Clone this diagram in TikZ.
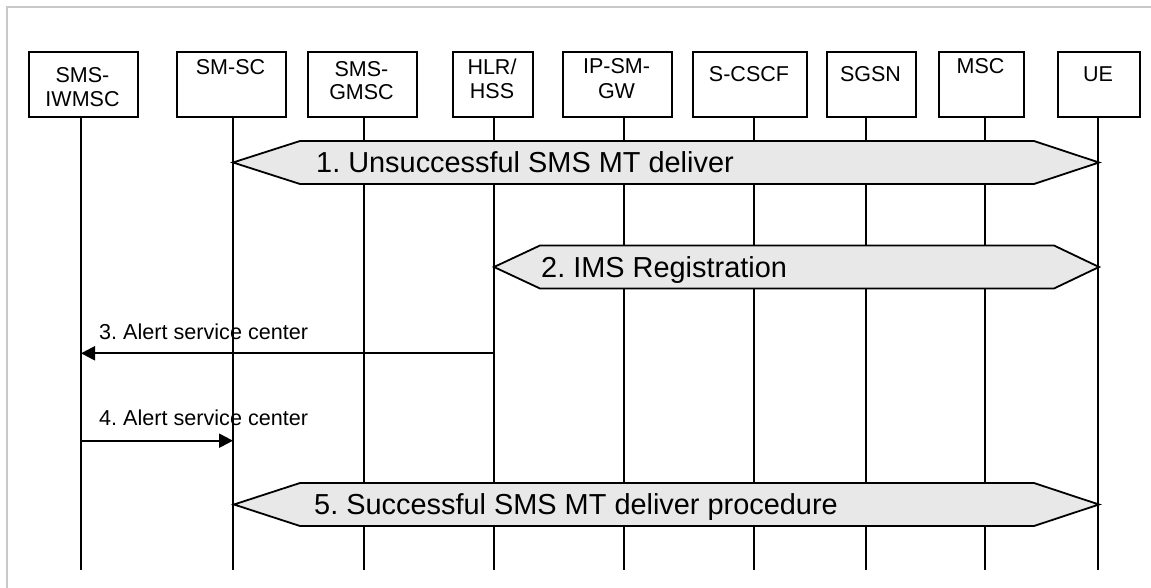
\documentclass[tikz,border=0pt]{standalone}
\usepackage{fontspec}
\setmainfont{Liberation Sans}
\usetikzlibrary{arrows.meta}
\definecolor{hexfill}{HTML}{E8E8E8}
\definecolor{framegray}{HTML}{C8C8C8}
\frenchspacing
\begin{document}
\begin{tikzpicture}[x=1pt,y=-1pt,
  ent/.style={draw=black, line width=1.9pt, fill=white, minimum height=65pt, anchor=north west, inner sep=0pt},
  enttext/.style={anchor=base, inner sep=0pt, font=\fontsize{21.5}{25}\selectfont},
  life/.style={line width=1.7pt},
  hexa/.style={draw=black, line width=1.8pt, fill=hexfill, line join=miter},
  hextext/.style={anchor=base west, inner sep=0pt, font=\fontsize{28.9}{34}\selectfont},
  msg/.style={line width=2.2pt, -{Triangle[length=14pt,width=14pt]}},
  msgtext/.style={anchor=base west, inner sep=0pt, font=\fontsize{21.6}{25}\selectfont}]
\useasboundingbox (0,0) rectangle (1151,588);
\fill[white] (0,0) rectangle (1151,588);
% frame
\draw[framegray, line width=2pt] (6.5,600) -- (6.5,7) -- (1160,7);

% entity boxes
\node[ent, minimum width=109pt] (iw) at (28,51) {};
\node[ent, minimum width=109pt] (sc) at (176,51) {};
\node[ent, minimum width=109pt] (gm) at (307,51) {};
\node[ent, minimum width=80pt] (hlr) at (452,51) {};
\node[ent, minimum width=109pt] (ipgw) at (562,51) {};
\node[ent, minimum width=114pt] (cscf) at (692,51) {};
\node[ent, minimum width=89pt] (sgsn) at (826,51) {};
\node[ent, minimum width=85pt] (msc) at (938,51) {};
\node[ent, minimum width=82pt] (ue) at (1057,51) {};

% box texts
\node[enttext] (iwt1) at (82.5,83) {SMS-};
\node[enttext] (iwt2) at (82.5,107) {IWMSC};
\node[enttext] (sct) at (230.5,75) {SM-SC};
\node[enttext] (gmt1) at (361.5,77) {SMS-};
\node[enttext] (gmt2) at (361.5,100) {GMSC};
\node[enttext] (hlrt1) at (492,75) {HLR/};
\node[enttext] (hlrt2) at (492,99) {HSS};
\node[enttext] (ipgwt1) at (616.5,74) {IP-SM-};
\node[enttext] (ipgwt2) at (616.5,99) {GW};
\node[enttext] (cscft) at (749,82) {S-CSCF};
\node[enttext] (sgsnt) at (870.5,82) {SGSN};
\node[enttext] (msct) at (980.5,74) {MSC};
\node[enttext] (uet) at (1098,82) {UE};

% lifeline end points
\foreach \n/\x in {iw/81, sc/233, gm/364, hlr/494, ipgw/624, cscf/754, sgsn/866, msc/985, ue/1098}{
  \coordinate (\n top) at (\x,117);
  \coordinate (\n end) at (\x,570);
}
\foreach \n in {iw, sc, gm, hlr, ipgw, cscf, sgsn, msc, ue}{
  \draw[life] (\n top) -- (\n end);
}

% hexagon 1
\draw[hexa] (233,162.5) coordinate (h1l) -- (300,141) -- (1034,141) -- (1099,162.5) coordinate (h1r) -- (1034,184) -- (300,184) -- cycle;
\node[hextext] (h1t) at (316,172.7) {1. Unsuccessful SMS MT deliver};

% hexagon 2
\draw[hexa] (494,267) coordinate (h2l) -- (540,245.5) -- (1054,245.5) -- (1099,267) coordinate (h2r) -- (1054,288.5) -- (540,288.5) -- cycle;
\node[hextext] (h2t) at (541,277) {2. IMS Registration};

% messages
\coordinate (m3s) at (494,353.3);
\coordinate (m3e) at (81,353.3);
\draw[msg] (m3s) -- (m3e);
\node[msgtext] (m3t) at (99,339.5) {3. Alert service center};

\coordinate (m4s) at (81,440.7);
\coordinate (m4e) at (233,440.7);
\draw[msg] (m4s) -- (m4e);
\node[msgtext] (m4t) at (99,425.5) {4. Alert service center};

% hexagon 5
\draw[hexa] (234,504.5) coordinate (h5l) -- (300,483) -- (1034,483) -- (1099,504.5) coordinate (h5r) -- (1034,526) -- (300,526) -- cycle;
\node[hextext] (h5t) at (314,514.7) {5. Successful SMS MT deliver procedure};
\end{tikzpicture}
\end{document}
